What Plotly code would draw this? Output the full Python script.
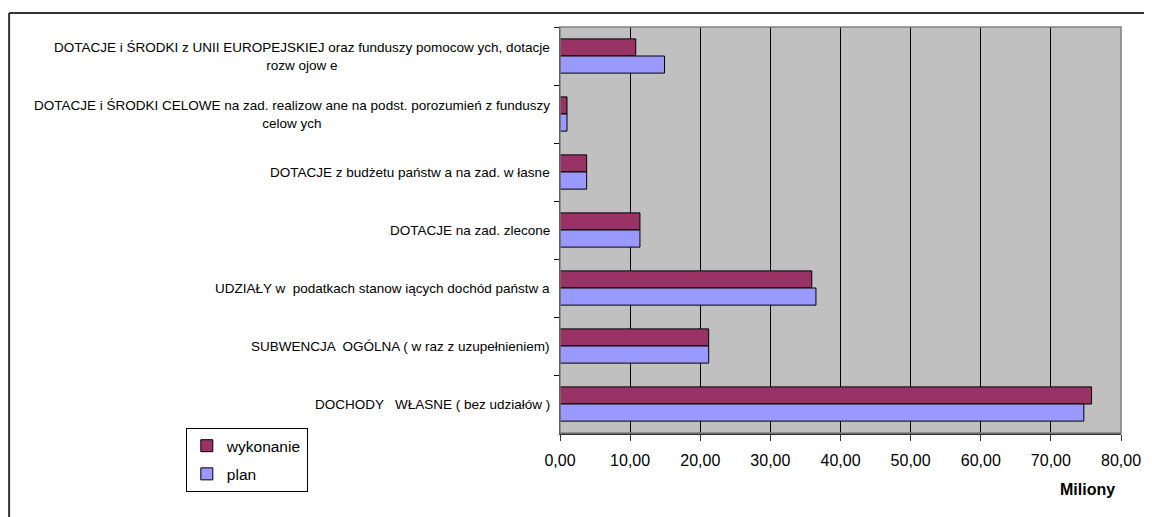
import plotly.graph_objects as go

categories = [
    "DOTACJE i ŚRODKI z UNII EUROPEJSKIEJ oraz funduszy pomocow ych, dotacje<br>rozw ojow e",
    "DOTACJE i ŚRODKI CELOWE na zad. realizow ane na podst. porozumień z funduszy<br>celow ych",
    "DOTACJE z budżetu państw a na zad. w łasne",
    "DOTACJE na zad. zlecone",
    "UDZIAŁY w  podatkach stanow iących dochód państw a",
    "SUBWENCJA  OGÓLNA ( w raz z uzupełnieniem)",
    "DOCHODY   WŁASNE ( bez udziałów )",
]
wykonanie = [10.8, 1.0, 3.8, 11.4, 35.9, 21.2, 75.8]
plan = [14.9, 1.0, 3.8, 11.4, 36.5, 21.2, 74.7]
x_ticks = [0, 10, 20, 30, 40, 50, 60, 70, 80]
x_tick_labels = ["0,00", "10,00", "20,00", "30,00", "40,00", "50,00", "60,00", "70,00", "80,00"]
x_title = "Miliony"

FONT = "Liberation Sans, Arial, sans-serif"

fig = go.Figure()
fig.add_trace(go.Bar(
    name="wykonanie", y=categories, x=wykonanie, orientation="h",
    legendgroup="g1",
    marker=dict(color="#993366", line=dict(color="black", width=1)),
))
fig.add_trace(go.Bar(
    name="plan", y=categories, x=plan, orientation="h",
    legendgroup="g2",
    marker=dict(color="#9999FF", line=dict(color="black", width=1)),
))

annotations = []
for c in categories:
    annotations.append(dict(
        x=0, xref="paper", y=c, yref="y", text=c, showarrow=False,
        xanchor="right", yanchor="middle", align="center", xshift=-8,
        font=dict(family=FONT, size=13.5, color="black"),
    ))
annotations.append(dict(
    x=0.94, xref="paper", y=-0.14, yref="paper", text="<b>" + x_title + "</b>",
    showarrow=False, xanchor="center", yanchor="middle",
    font=dict(family=FONT, size=16, color="black"),
))

fig.update_layout(
    width=1152, height=517,
    margin=dict(l=552, r=39, t=19, b=92, autoexpand=False),
    paper_bgcolor="white", plot_bgcolor="#C0C0C0",
    barmode="group", bargap=0.41, bargroupgap=0,
    font=dict(family=FONT, size=14, color="black"),
    showlegend=True,
    legend=dict(
        x=-0.667, y=0.012, xanchor="left", yanchor="top",
        bgcolor="white", bordercolor="black", borderwidth=1,
        font=dict(family=FONT, size=15.5, color="black"),
        traceorder="grouped", tracegroupgap=5, itemwidth=30,
    ),
    annotations=annotations,
    shapes=[
        dict(type="rect", xref="paper", yref="paper", x0=0, x1=1, y0=0, y1=1,
             line=dict(color="#808080", width=1.5), layer="above"),
        # outer chart frame (only left and top edges fall inside the picture)
        dict(type="line", xref="paper", yref="paper", x0=-0.982, x1=1.2, y0=1.0345, y1=1.0345,
             line=dict(color="#333333", width=2), layer="below"),
        dict(type="line", xref="paper", yref="paper", x0=-0.982, x1=-0.982, y0=-0.25, y1=1.0345,
             line=dict(color="#333333", width=2), layer="below"),
    ],
)

fig.update_xaxes(
    range=[0, 80], tickvals=x_ticks, ticktext=x_tick_labels,
    showgrid=True, gridcolor="black", gridwidth=1,
    zeroline=False, showline=True, linecolor="#333333", linewidth=2,
    ticks="outside", ticklen=6, tickcolor="#333333",
    ticklabelstandoff=6,
    tickfont=dict(family=FONT, size=16, color="black"),
    fixedrange=True,
)
fig.update_yaxes(
    categoryorder="array", categoryarray=categories, autorange="reversed",
    showticklabels=False, showgrid=False, zeroline=False,
    showline=True, linecolor="black", linewidth=1,
    ticks="outside", ticklen=5, tickson="boundaries", tickcolor="black",
    fixedrange=True,
)

fig.write_html("out.html")
